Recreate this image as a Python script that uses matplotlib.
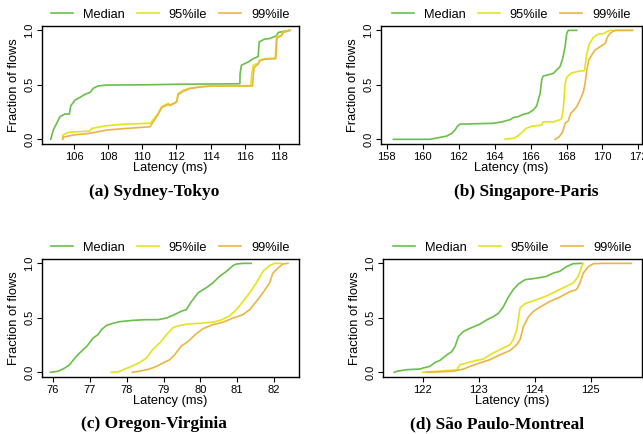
import matplotlib
matplotlib.use('Agg')
import matplotlib.pyplot as plt

plt.rcParams['font.family'] = ['Liberation Sans', 'DejaVu Sans']

GREEN = '#6abf4b'
YELLOW = '#e3e41c'
ORANGE = '#ebb545'
labels = ['Median', '95%ile', '99%ile']

# (a) Sydney-Tokyo
syd_med_x = [104.64, 104.79, 104.99, 105.18, 105.47, 105.73, 105.81, 106.06, 106.35, 106.64, 106.94,
             107.13, 107.42, 107.91, 110.0, 112.0, 115.71, 115.72, 115.80, 116.2, 116.49, 116.78, 116.84,
             117.17, 117.46, 117.85, 117.95, 118.24, 118.6]
syd_med_y = [0.0, 0.086, 0.147, 0.208, 0.232, 0.232, 0.306, 0.36, 0.385, 0.413, 0.43,
             0.468, 0.49, 0.498, 0.50, 0.505, 0.51, 0.60, 0.68, 0.71, 0.74, 0.76, 0.895,
             0.92, 0.925, 0.95, 0.98, 0.99, 1.0]
syd_95_x = [105.34, 105.36, 105.67, 106.94, 107.04, 107.91, 109.08, 110.45, 110.64, 110.93, 111.13,
            111.52, 111.62, 112.0, 112.1, 112.39, 112.78, 113.37, 114.0, 116.35, 116.40, 116.49, 116.78,
            116.88, 117.17, 117.78, 117.85, 118.14, 118.24, 118.6]
syd_95_y = [0.0, 0.04, 0.064, 0.076, 0.10, 0.125, 0.14, 0.147, 0.18, 0.24, 0.30,
            0.33, 0.315, 0.345, 0.42, 0.45, 0.47, 0.483, 0.49, 0.492, 0.60, 0.68, 0.70,
            0.73, 0.74, 0.745, 0.94, 0.957, 0.987, 1.0]
syd_99_x = [105.34, 105.36, 106.0, 106.94, 107.91, 109.08, 110.45, 110.64, 110.93, 111.13,
            111.52, 111.62, 112.0, 112.1, 112.39, 112.78, 113.37, 114.0, 116.45, 116.50, 116.55, 116.78,
            116.88, 117.17, 117.81, 117.88, 118.14, 118.24, 118.65]
syd_99_y = [0.0, 0.02, 0.04, 0.055, 0.085, 0.10, 0.115, 0.16, 0.23, 0.29,
            0.32, 0.31, 0.34, 0.41, 0.44, 0.465, 0.48, 0.488, 0.49, 0.60, 0.66, 0.69,
            0.72, 0.735, 0.74, 0.93, 0.95, 0.98, 1.0]

# (b) Singapore-Paris
sin_med_x = [158.37, 160.41, 160.97, 161.34, 161.62, 161.8, 161.93, 162.08, 162.26, 163.93, 164.4, 164.86,
             165.05, 165.32, 165.6, 165.88, 166.16, 166.34, 166.53, 166.62, 166.7, 167.27, 167.45, 167.64,
             167.79, 167.92, 168.01, 168.1, 168.57]
sin_med_y = [0.0, 0.0, 0.018, 0.03, 0.055, 0.086, 0.12, 0.14, 0.14, 0.147, 0.16, 0.18,
             0.2, 0.208, 0.23, 0.24, 0.27, 0.306, 0.42, 0.544, 0.58, 0.605, 0.636, 0.667,
             0.743, 0.85, 0.97, 1.0, 1.0]
sin_95_x = [164.58, 165.05, 165.23, 165.51, 165.75, 166.07, 166.62, 166.7, 167.27, 167.64, 167.73, 167.83,
            167.92, 168.01, 168.29, 168.75, 169.0, 169.13, 169.27, 169.5, 169.77, 170.05, 170.27, 170.42,
            171.63]
sin_95_y = [0.0, 0.01, 0.024, 0.061, 0.10, 0.12, 0.13, 0.16, 0.16, 0.18, 0.19, 0.30,
            0.51, 0.57, 0.61, 0.627, 0.63, 0.79, 0.875, 0.936, 0.966, 0.97, 0.99, 1.0,
            1.0]
sin_99_x = [167.36, 167.6, 167.79, 167.92, 168.1, 168.24, 168.42, 168.57, 168.75, 168.94, 169.03, 169.13,
            169.24, 169.4, 169.59, 169.87, 170.15, 170.27, 170.42, 170.61, 170.79, 171.68]
sin_99_y = [0.0, 0.024, 0.07, 0.147, 0.17, 0.24, 0.27, 0.30, 0.36, 0.437, 0.51, 0.636,
            0.728, 0.774, 0.82, 0.85, 0.88, 0.936, 0.972, 0.994, 1.0, 1.0]

# (c) Oregon-Virginia
ore_med_x = [75.93, 76.14, 76.32, 76.45, 76.59, 76.72, 76.92, 77.09, 77.22, 77.31, 77.45, 77.63, 77.81,
             78.17, 78.53, 78.85, 79.08, 79.3, 79.48, 79.62, 79.76, 79.94, 80.16, 80.34, 80.52, 80.71,
             80.89, 80.98, 81.16, 81.38]
ore_med_y = [0.0, 0.01, 0.04, 0.07, 0.13, 0.177, 0.24, 0.315, 0.346, 0.39, 0.43, 0.45, 0.465,
             0.477, 0.483, 0.483, 0.498, 0.53, 0.56, 0.575, 0.65, 0.73, 0.776, 0.82, 0.88, 0.927,
             0.98, 0.994, 1.0, 1.0]
ore_95_x = [77.58, 77.76, 77.95, 78.17, 78.35, 78.53, 78.71, 78.9, 79.08, 79.26, 79.44, 79.67, 79.98,
            80.34, 80.57, 80.8, 80.98, 81.16, 81.34, 81.52, 81.7, 81.88, 82.02, 82.2]
ore_95_y = [0.0, 0.003, 0.03, 0.06, 0.09, 0.13, 0.21, 0.27, 0.345, 0.41, 0.43, 0.443, 0.45,
            0.46, 0.48, 0.52, 0.575, 0.65, 0.73, 0.82, 0.927, 0.98, 1.0, 1.0]
ore_99_x = [78.15, 78.35, 78.62, 78.81, 78.99, 79.17, 79.3, 79.48, 79.67, 79.89, 80.07, 80.34, 80.61,
            80.89, 81.16, 81.34, 81.52, 81.7, 81.88, 81.97, 82.11, 82.24, 82.38]
ore_99_y = [0.0, 0.01, 0.03, 0.055, 0.086, 0.116, 0.16, 0.24, 0.284, 0.355, 0.40, 0.437, 0.459,
            0.498, 0.53, 0.575, 0.65, 0.73, 0.82, 0.91, 0.957, 0.994, 1.0]

# (d) Sao Paulo-Montreal
sao_med_x = [121.49, 121.54, 121.71, 121.95, 122.01, 122.13, 122.22, 122.31, 122.43, 122.52, 122.58,
             122.64, 122.73, 122.85, 123.0, 123.08, 123.14, 123.26, 123.35, 123.44, 123.53, 123.62,
             123.71, 123.83, 123.98, 124.21, 124.33, 124.45, 124.57, 124.69, 124.84]
sao_med_y = [0.0, 0.01, 0.024, 0.03, 0.04, 0.055, 0.09, 0.11, 0.16, 0.19, 0.24,
             0.33, 0.376, 0.405, 0.437, 0.46, 0.48, 0.51, 0.54, 0.60, 0.69, 0.76,
             0.81, 0.85, 0.86, 0.88, 0.91, 0.927, 0.97, 0.997, 1.0]
sao_95_x = [122.0, 122.55, 122.61, 122.67, 122.79, 122.96, 123.08, 123.2, 123.38, 123.56, 123.62, 123.68,
            123.74, 123.83, 123.98, 124.21, 124.45, 124.69, 124.78, 124.84, 124.87]
sao_95_y = [0.0, 0.02, 0.024, 0.07, 0.086, 0.11, 0.12, 0.16, 0.208, 0.254, 0.30, 0.39,
            0.59, 0.63, 0.657, 0.70, 0.76, 0.82, 0.88, 0.97, 1.0]
sao_99_x = [122.08, 122.55, 122.73, 122.85, 123.02, 123.2, 123.38, 123.56, 123.68, 123.74, 123.8, 123.89,
            123.98, 124.1, 124.27, 124.45, 124.63, 124.75, 124.81, 124.87, 124.96, 125.05, 125.23, 125.73]
sao_99_y = [0.0, 0.01, 0.03, 0.055, 0.086, 0.116, 0.16, 0.20, 0.254, 0.30, 0.42, 0.51,
            0.56, 0.60, 0.65, 0.69, 0.74, 0.76, 0.82, 0.91, 0.97, 0.997, 1.0, 1.0]

panels = [
    ([42, 26], (104.13, 119.17), [106, 108, 110, 112, 114, 116, 118],
     [(syd_med_x, syd_med_y), (syd_95_x, syd_95_y), (syd_99_x, syd_99_y)],
     '(a) Sydney-Tokyo', (154, 192)),
    ([381, 26], (157.68, 172.2), [158, 160, 162, 164, 166, 168, 170, 172],
     [(sin_med_x, sin_med_y), (sin_95_x, sin_95_y), (sin_99_x, sin_99_y)],
     '(b) Singapore-Paris', (526, 192)),
    ([42, 259], (75.70, 82.68), [76, 77, 78, 79, 80, 81, 82],
     [(ore_med_x, ore_med_y), (ore_95_x, ore_95_y), (ore_99_x, ore_99_y)],
     '(c) Oregon-Virginia', (154, 424)),
    ([383, 259], (121.29, 125.92), [122, 123, 124, 125],
     [(sao_med_x, sao_med_y), (sao_95_x, sao_95_y), (sao_99_x, sao_99_y)],
     '(d) São Paulo-Montreal', (497, 424)),
]

W, H = 643, 434
fig = plt.figure(figsize=(W / 100, H / 100), dpi=100)

for (x0, y0), xlim, xticks, series, caption, (cx, cy) in panels:
    w = 299 - 42 if x0 < 100 else 642 - x0
    h = 118
    ax = fig.add_axes([x0 / W, 1 - (y0 + h) / H, w / W, h / H])
    for (xs, ys), c, lab in zip(series, [GREEN, YELLOW, ORANGE], labels):
        ax.plot(xs, ys, color=c, lw=1.2, label=lab)
    ax.set_xlim(*xlim)
    ax.set_ylim(-0.043, 1.04)
    ax.set_xticks(xticks)
    ax.set_yticks([0.0, 0.5, 1.0])
    ax.set_yticklabels(['0.0', '0.5', '1.0'], rotation=90, va='center')
    ax.tick_params(labelsize=8, length=3.5, width=0.8, pad=2)
    for s in ax.spines.values():
        s.set_linewidth(1.0)
    ax.set_xlabel('Latency (ms)', fontsize=9.3, labelpad=0)
    ax.set_ylabel('Fraction of flows', fontsize=9.3, labelpad=3)
    ax.legend(loc='center', bbox_to_anchor=(0.5, 1.095), ncol=3, frameon=False,
              fontsize=9.2, handlelength=1.7, handletextpad=0.8, columnspacing=0.95,
              borderpad=0, borderaxespad=0)
    fig.text(cx / W, 1 - cy / H, caption, ha='center', va='center',
             fontsize=12.5, fontweight='bold', family=['Liberation Serif', 'DejaVu Serif'])

fig.savefig('out.png', dpi=100)
